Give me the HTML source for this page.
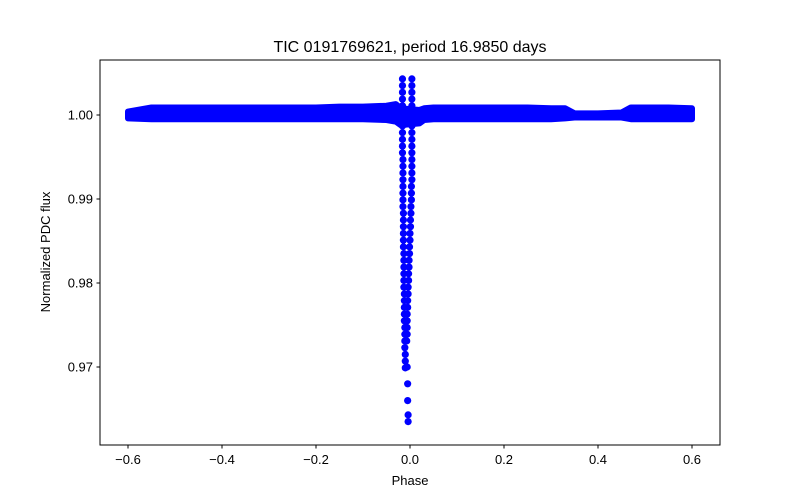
<!DOCTYPE html>
<html><head><meta charset="utf-8"><style>
body{margin:0;background:#fff;}
svg{display:block;font-family:"Liberation Sans","DejaVu Sans",sans-serif;}
</style></head><body>
<svg id="chart" width="800" height="500">
<rect width="800" height="500" fill="#fff"/>
<g id="band"></g><g id="pts"></g>
<rect x="100" y="60" width="620" height="385" fill="none" stroke="#000" stroke-width="1"/>
<g id="axes"></g>
<text x="410" y="52" text-anchor="middle" font-size="16">TIC 0191769621, period 16.9850 days</text>
<text x="410" y="485" text-anchor="middle" font-size="13">Phase</text>
<text transform="translate(50,252) rotate(-90)" text-anchor="middle" font-size="13">Normalized PDC flux</text>
</svg>
<script>
const xTicks=[-0.6,-0.4,-0.2,0.0,0.2,0.4,0.6];
const xTickLabels=["−0.6","−0.4","−0.2","0.0","0.2","0.4","0.6"];
const yTicks=[0.97,0.98,0.99,1.00];
const yTickLabels=["0.97","0.98","0.99","1.00"];
const bandPhase=[-0.6,-0.55,-0.5,-0.45,-0.4,-0.35,-0.3,-0.25,-0.2,-0.15,-0.1,-0.05,-0.03,-0.02,0.02,0.03,0.05,0.1,0.15,0.2,0.25,0.3,0.33,0.35,0.4,0.45,0.47,0.5,0.55,0.6];
const bandUpper=[1.0004,1.0009,1.0009,1.0009,1.0009,1.0009,1.0009,1.0009,1.0009,1.0010,1.0010,1.0011,1.0013,1.0008,1.0006,1.0008,1.0009,1.0009,1.0009,1.0009,1.0009,1.0008,1.0008,1.0002,1.0002,1.0003,1.0009,1.0009,1.0009,1.0008];
const bandLower=[0.9996,0.9995,0.9995,0.9995,0.9995,0.9995,0.9995,0.9995,0.9995,0.9995,0.9995,0.9994,0.9992,0.9988,0.9990,0.9994,0.9995,0.9995,0.9995,0.9995,0.9995,0.9995,0.9996,0.9997,0.9997,0.9997,0.9995,0.9995,0.9995,0.9995];
const leftPhase=[-0.016,-0.016,-0.016,-0.016,-0.016,-0.016,-0.016,-0.016,-0.016,-0.016,-0.016,-0.016,-0.015,-0.015,-0.015,-0.015,-0.015,-0.015,-0.015,-0.015,-0.014,-0.014,-0.014,-0.014,-0.014,-0.014,-0.013,-0.013,-0.013,-0.013,-0.013,-0.013,-0.012,-0.012,-0.012,-0.012,-0.012,-0.011,-0.011,-0.011,-0.011,-0.010,-0.010,-0.010];
const leftFlux=[1.0043,1.0035,1.0027,1.0019,1.0011,1.0003,0.9995,0.9987,0.9979,0.9971,0.9963,0.9955,0.9947,0.9939,0.9931,0.9923,0.9915,0.9907,0.9899,0.9891,0.9883,0.9875,0.9867,0.9859,0.9851,0.9843,0.9835,0.9827,0.9819,0.9811,0.9803,0.9795,0.9787,0.9779,0.9771,0.9763,0.9755,0.9747,0.9739,0.9731,0.9723,0.9715,0.9707,0.9699];
const rightPhase=[0.004,0.004,0.004,0.004,0.004,0.004,0.004,0.004,0.004,0.004,0.004,0.004,0.004,0.004,0.004,0.004,0.003,0.003,0.003,0.002,0.002,0.001,0.001,0.000,0.000,-0.001,-0.001,-0.002,-0.002,-0.003,-0.003,-0.004,-0.004,-0.005,-0.005,-0.006,-0.006,-0.006,-0.006,-0.007,-0.006,-0.005,-0.005,-0.004,-0.004];
const rightFlux=[1.0043,1.0035,1.0027,1.0019,1.0011,1.0003,0.9995,0.9987,0.9979,0.9971,0.9963,0.9955,0.9947,0.9939,0.9931,0.9923,0.9915,0.9907,0.9899,0.9891,0.9883,0.9875,0.9867,0.9859,0.9851,0.9843,0.9835,0.9827,0.9819,0.9811,0.9803,0.9795,0.9787,0.9779,0.9771,0.9763,0.9755,0.9747,0.9739,0.9731,0.9700,0.9680,0.9660,0.9643,0.9635];
const X0=410,XS=470,Y0=115,YS=8400;
function px(p){return X0+p*XS;}
function py(f){return Y0-(f-1)*YS;}
const NS="http://www.w3.org/2000/svg";
const band=document.getElementById('band');
let d="M"+bandPhase.map((p,i)=>px(p)+","+py(bandUpper[i])).join(" L");
for(let i=bandPhase.length-1;i>=0;i--)d+=" L"+px(bandPhase[i])+","+py(bandLower[i]);
d+=" Z";
const poly=document.createElementNS(NS,'path');
poly.setAttribute('d',d);poly.setAttribute('fill','#0000ff');poly.setAttribute('stroke','#0000ff');poly.setAttribute('stroke-width','6');poly.setAttribute('stroke-linejoin','round');


band.appendChild(poly);
const pts=document.getElementById('pts');
function dot(p,f){
 const c=document.createElementNS(NS,'circle');
 c.setAttribute('cx',px(p));c.setAttribute('cy',py(f));c.setAttribute('r','3.6');c.setAttribute('fill','#0000ff');
 
 
 pts.appendChild(c);
}
leftPhase.forEach((p,i)=>dot(p,leftFlux[i]));
rightPhase.forEach((p,i)=>dot(p,rightFlux[i]));
const axes=document.getElementById('axes');
xTicks.forEach((t,i)=>{
 const l=document.createElementNS(NS,'line');
 l.setAttribute('x1',px(t));l.setAttribute('x2',px(t));l.setAttribute('y1',445);l.setAttribute('y2',448.5);l.setAttribute('stroke','#000');
 
 
 axes.appendChild(l);
 const tx=document.createElementNS(NS,'text');
 tx.setAttribute('x',px(t));tx.setAttribute('y',464);tx.setAttribute('text-anchor','middle');tx.setAttribute('font-size','13');
 tx.textContent=xTickLabels[i];
 
 
 axes.appendChild(tx);
});
yTicks.forEach((t,i)=>{
 const l=document.createElementNS(NS,'line');
 l.setAttribute('x1',96.5);l.setAttribute('x2',100);l.setAttribute('y1',py(t));l.setAttribute('y2',py(t));l.setAttribute('stroke','#000');
 
 
 axes.appendChild(l);
 const tx=document.createElementNS(NS,'text');
 tx.setAttribute('x',93);tx.setAttribute('y',py(t)+4.5);tx.setAttribute('text-anchor','end');tx.setAttribute('font-size','13');
 tx.textContent=yTickLabels[i];
 
 
 axes.appendChild(tx);
});
</script>
</body></html>
